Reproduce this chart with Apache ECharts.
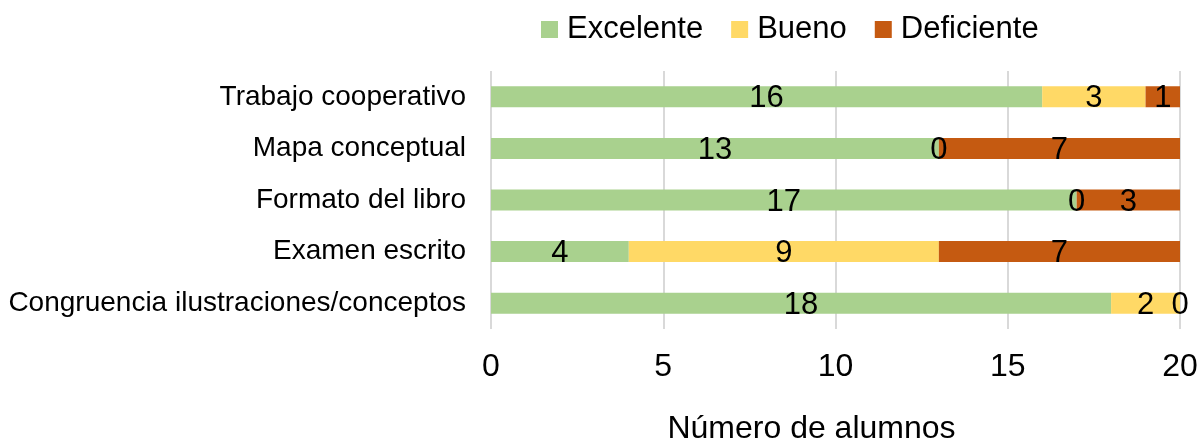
<!DOCTYPE html>
<html>
<head>
<meta charset="utf-8">
<script src="https://cdn.jsdelivr.net/npm/echarts@6/dist/echarts.min.js"></script>
<style>
  html, body { margin: 0; padding: 0; background: #fff; }
  #chart { width: 1199px; height: 442px; }
</style>
</head>
<body>
<div id="chart"></div>
<script>
// datos (de arriba hacia abajo)
var categorias = ['Trabajo cooperativo', 'Mapa conceptual', 'Formato del libro', 'Examen escrito', 'Congruencia ilustraciones/conceptos'];
var excelente = [16, 13, 17, 4, 18];
var bueno = [3, 0, 0, 9, 2];
var deficiente = [1, 7, 3, 7, 0];
var ticksX = [0, 5, 10, 15, 20];

var colores = ['#A9D18E', '#FFD966', '#C55A11'];
var nombres = ['Excelente', 'Bueno', 'Deficiente'];
var valores = [excelente, bueno, deficiente];

var fuente = 'Arial, "Liberation Sans", sans-serif';

var chart = echarts.init(document.getElementById('chart'));

var series = [];
for (var i = 0; i < 3; i++) {
    series.push({
        name: nombres[i],
        type: 'bar',
        stack: 'total',
        barWidth: 21,
        itemStyle: { color: colores[i] },
        emphasis: { disabled: true },
        label: {
            show: true,
            position: 'inside',
            color: '#000',
            fontSize: 31,
            fontFamily: fuente,
            offset: [0, 2]
        },
        data: valores[i]
    });
}

var option = {
    animation: false,
    textStyle: { fontFamily: fuente },
    legend: {
        data: nombres,
        top: 9,
        left: 536,
        itemWidth: 17,
        itemHeight: 17,
        itemGap: 28,
        icon: 'rect',
        textStyle: { fontSize: 31, color: '#000', fontFamily: fuente, padding: [0, 0, 0, 4] }
    },
    grid: {
        left: 491,
        right: 19,
        top: 71,
        bottom: 113,
        containLabel: false,
        outerBoundsMode: 'none'
    },
    xAxis: {
        type: 'value',
        min: ticksX[0],
        max: ticksX[ticksX.length - 1],
        interval: 5,
        axisLine: { show: false },
        axisTick: { show: false },
        splitLine: { lineStyle: { color: '#d9d9d9', width: 2 } },
        axisLabel: { fontSize: 32, color: '#000', margin: 22, fontFamily: fuente },
        name: 'Número de alumnos',
        nameLocation: 'middle',
        nameGap: 84,
        nameTextStyle: { fontSize: 32, color: '#000', fontFamily: fuente, padding: [0, 48, 0, 0] }
    },
    yAxis: {
        type: 'category',
        inverse: true,
        data: categorias,
        axisLine: { show: false },
        axisTick: { show: false },
        axisLabel: { fontSize: 28, color: '#000', margin: 25, fontFamily: fuente, padding: [3, 0, 0, 0] }
    },
    series: series
};

chart.setOption(option);
</script>
</body>
</html>
